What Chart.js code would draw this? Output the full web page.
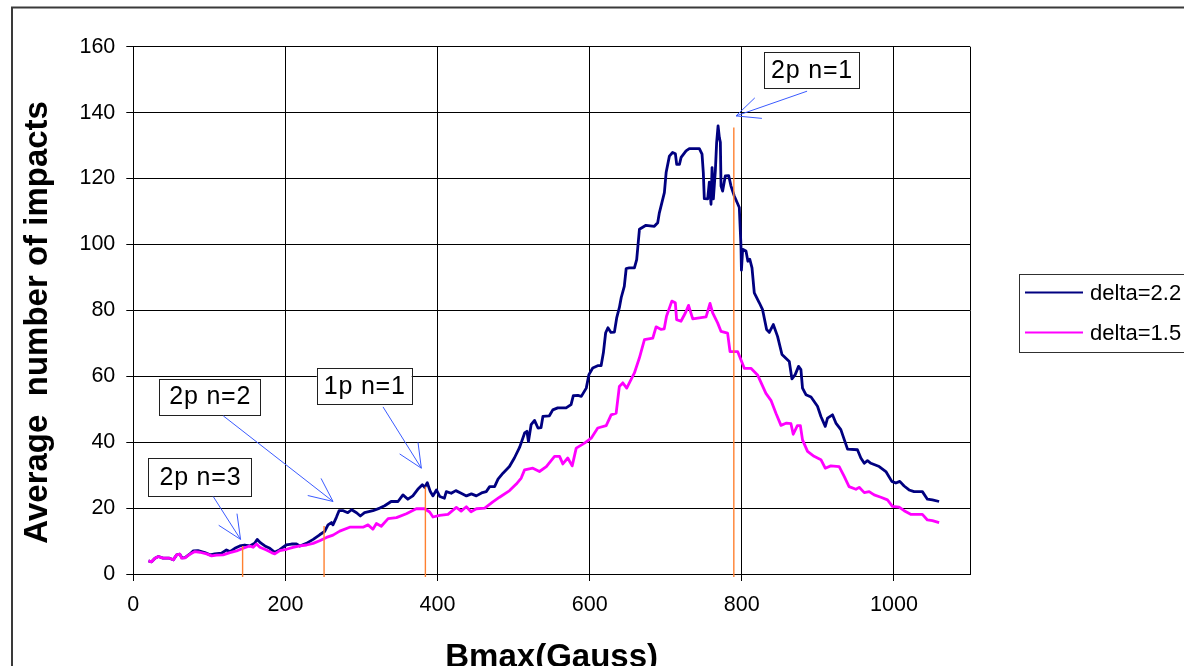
<!DOCTYPE html>
<html>
<head>
<meta charset="utf-8">
<script src="https://cdn.jsdelivr.net/npm/chart.js@4/dist/chart.umd.min.js"></script>
<style>
  html, body { margin: 0; padding: 0; background: #fff; overflow: hidden; }
  canvas { display: block; }
</style>
</head>
<body>
<canvas id="c" width="1184" height="666"></canvas>
<script>
// ---------- DATA ----------
const seriesLabels = ['delta=2.2', 'delta=1.5'];

const bmaxDelta22 = [20,24,28.5,33,39,47.5,52.5,57,61,64,68,74,79,85,94,101,107,116,122.5,127,133.5,140,146.5,153,159.5,163,167,173,179.5,186,192.5,201,208,214.5,219,227.5,236.5,245,251.5,256,260.5,262.5,267,270.5,276,282,287,293.5,298.5,304,315,324,330.5,339,348,354.5,361,367.5,374,380,383,386.5,390.5,394,398.5,403,409,411.5,418,424,431,438,444.5,451,459,464,468.5,475,479.5,486,494.5,501,508,514.5,517.5,519.5,523,527.5,532,536,538.5,547,551.5,558,569,575.5,578.5,584.5,589,595.5,599,604,610.5,615,618,621,624,628,632.5,635.5,639,641.5,645.5,648,652,658.8,661.8,665.4,674,685,689.4,691.6,698.2,700.5,704.8,709,712.7,714.4,718,720.2,726.7,731,744.2,747.7,749.4,750.7,755.1,757.3,759.5,760.9,762.6,765.2,766.9,768.8,770.5,771.8,772.7,774.8,778.3,782.7,785.8,787.9,790.1,796.7,798.9,799.5,801.1,805.5,808,810.5,813.4,816.4,823,827.3,832.6,836.1,841.4,847,852.8,862.4,865.9,870.2,874.6,877.7,879.8,884.3,891,899.5,904,909.7,912.7,919.2,923.7,930.2,939,952,956.5,961,965.2,969.7,980.6,989.4,997.2,1002.5,1007.7,1013.4,1019.9,1026.5,1037.4,1044,1050.6,1059.4];
const impactsDelta22 = [4.0,3.7,4.8,5.3,4.8,4.8,4.3,5.8,6.0,4.9,5.0,6.0,7.0,7.1,6.5,5.8,6.1,6.3,7.3,6.8,7.8,8.5,8.8,8.5,9.3,10.5,9.5,8.5,7.8,6.6,7.4,8.8,9.1,9.1,8.5,9.3,10.5,11.9,12.9,14.9,15.6,14.9,17.2,19.2,19.2,18.6,19.5,18.6,17.6,18.6,19.2,20.0,20.7,22.0,22.0,24.0,22.7,23.7,25.7,27.1,26.3,27.7,25.0,23.7,25.5,23.5,23.0,25.0,24.5,25.3,24.5,23.7,24.3,23.7,24.7,25.0,26.5,26.5,28.8,30.6,32.6,35.2,38.5,42.8,43.3,40.2,45.3,46.6,44.3,44.4,47.8,48.0,49.8,50.4,50.4,51.4,54.1,54.2,53.9,56.4,60.5,62.5,63.2,63.2,67.1,73.2,74.7,73.3,73.4,77.7,80.8,83.9,87.3,92.7,92.9,92.9,95.4,104.6,105.8,105.5,106.6,109.6,115.7,121.8,126.8,127.9,127.5,124.3,124.3,126.4,128.4,129.1,129.1,127.4,121.8,113.9,113.8,118.9,112.2,123.3,113.8,122.3,130.9,136.0,132.4,131.0,117.7,116.2,120.8,120.9,117.7,116.2,114.7,111.2,99.5,92.2,98.5,98.0,94.9,95.5,92.9,85.3,82.3,80.2,74.2,73.3,75.7,72.1,66.6,64.5,59.2,60.5,63.0,62.0,56.4,54.4,53.7,50.9,47.8,44.8,47.3,48.3,45.8,43.8,37.9,37.7,35.2,33.6,34.4,33.6,32.6,31.1,28.1,27.6,28.1,26.7,25.5,25.0,25.0,22.7,22.5,22.0];

const bmaxDelta15 = [20,24,28.5,33,39,47.5,52.5,57,61.3,63.5,68,74.5,81,87.6,96.4,103,109.5,118,127,135.8,144.5,153,157.6,162,166.4,175,181.7,186,192.6,201.4,210,219,227.7,236.4,245,254,262.6,271.4,284.5,302,308.6,315,319.6,326,335,346,359,372,383,389.6,394,402.8,413.7,424.7,431,437.8,444,451,462,472.7,481.5,494.7,503.5,510,514.4,525.3,534,543,553.8,560.4,564.7,571.2,577,582.3,593.2,602,610.6,621.7,628.2,634.8,639,643.5,648.7,658.8,665.4,672,683,687.3,694,698,701,708,712.6,714.3,720,725.8,730,735.5,744.2,753,758.2,761.7,768.2,772.7,781.3,784.5,794.5,803.3,812,820.7,831.7,838.3,845,851.5,858.8,864.6,867.6,873,877,879.8,886.4,895,904,909.7,917,928,934.6,941,950,954.3,961,967.4,974,982.8,991.5,998,1006.8,1013.4,1022,1037.4,1044,1050.6,1059.4];
const impactsDelta15 = [4.0,3.7,4.8,5.3,4.8,4.8,4.3,5.8,6.0,4.8,4.9,6.0,6.8,6.6,6.1,5.5,5.7,5.8,6.5,7.0,7.8,8.5,8.1,9.1,8.1,7.3,6.5,6.1,7.1,7.5,8.1,8.5,8.8,9.3,10.1,11.1,11.8,13.0,14.2,14.2,14.9,13.6,15.3,14.5,16.8,17.1,18.3,19.8,19.8,18.8,17.3,17.8,18.1,20.2,19.1,20.4,18.9,19.8,20.0,21.9,23.3,25.3,27.3,29.1,31.6,32.1,31.1,32.6,35.7,35.7,33.4,35.2,32.8,38.2,39.7,41.2,44.3,45.0,48.3,48.8,56.9,58.0,56.4,61.0,65.6,71.1,71.6,75.0,74.2,74.4,78.2,82.8,82.3,77.2,76.7,79.2,81.5,77.4,77.7,78.0,82.1,79.2,76.2,73.6,73.1,67.5,67.5,62.4,62.4,60.4,54.8,52.7,48.7,45.1,45.8,45.6,42.4,45.0,45.0,40.7,37.2,35.7,34.7,32.1,32.8,32.6,29.6,26.5,25.7,26.3,24.7,25.0,24.0,23.3,22.5,20.5,20.3,19.2,18.1,18.1,16.4,16.2,15.6];

// resonance markers (orange vertical lines): Bmax position and top value
const markerBmax = [143.7, 250.8, 384, 789.5];
const markerTop  = [8.5, 14.6, 26.5, 135.5];

// annotation labels
const noteTexts = ['2p n=3', '2p n=2', '1p n=1', '2p n=1'];

const xTickValues = [0, 200, 400, 600, 800, 1000, 1100];
const yMin = 0, yMax = 160, yStep = 20;

// ---------- LAYOUT (annotation boxes/arrows in data units) ----------
const noteBoxes = [
  {x0: 19.7, x1: 155.5, y0: 35.2, y1: 23.8},
  {x0: 34.1, x1: 166.8, y0: 59.3, y1: 48.5},
  {x0: 241.2, x1: 366.0, y0: 62.6, y1: 51.7},
  {x0: 829.3, x1: 954.0, y0: 158.4, y1: 147.4}
];
const noteArrows = [
  {fx: 105.1, fy: 23.5, tx: 141.0, ty: 10.5},
  {fx: 118.2, fy: 48.0, tx: 262.6, ty: 22.0},
  {fx: 328.3, fy: 50.7, tx: 378.7, ty: 32.1},
  {fx: 885.8, fy: 146.5, tx: 792.4, ty: 139.0}
];

const FONT = "'Liberation Sans', Arial, sans-serif";
Chart.defaults.font.family = FONT;
Chart.defaults.color = '#000';

const toXY = (xs, ys) => xs.map((x, i) => ({x: x, y: ys[i]}));

const datasets = [
  {label: seriesLabels[0], data: toXY(bmaxDelta22, impactsDelta22), borderColor: '#000080', borderWidth: 2.8, pointRadius: 0, tension: 0, order: 2, borderJoinStyle: 'round'},
  {label: seriesLabels[1], data: toXY(bmaxDelta15, impactsDelta15), borderColor: '#FF00FF', borderWidth: 2.8, pointRadius: 0, tension: 0, order: 1, borderJoinStyle: 'round'}
];
markerBmax.forEach((b, i) => {
  datasets.push({label: 'marker' + i, data: [{x: b, y: -0.9}, {x: b, y: markerTop[i]}], borderColor: '#FF8030', borderWidth: 1.4, pointRadius: 0, order: 0, clip: false});
});

const decorPlugin = {
  id: 'decor',
  beforeDraw(chart) {
    const c = chart.ctx;
    c.save();
    c.fillStyle = '#fff';
    c.fillRect(0, 0, chart.width, chart.height);
    c.strokeStyle = '#3a3a3a';
    c.lineWidth = 2;
    c.strokeRect(12, 7.5, 1400, 900);
    c.restore();
  },
  afterDraw(chart) {
    const c = chart.ctx;
    const xs = chart.scales.x, ys = chart.scales.y;
    const ca = chart.chartArea;
    c.save();
    // annotation boxes
    noteBoxes.forEach((b, i) => {
      const l = xs.getPixelForValue(b.x0), r = xs.getPixelForValue(b.x1);
      const t = ys.getPixelForValue(b.y0), bt = ys.getPixelForValue(b.y1);
      c.fillStyle = '#fff';
      c.fillRect(l, t, r - l, bt - t);
      c.strokeStyle = '#202020';
      c.lineWidth = 1;
      c.strokeRect(Math.round(l) + 0.5, Math.round(t) + 0.5, Math.round(r - l), Math.round(bt - t));
      c.fillStyle = '#000';
      c.font = '25px ' + FONT;
      c.letterSpacing = '0.8px';
      c.textAlign = 'center';
      c.textBaseline = 'middle';
      c.fillText(noteTexts[i], (l + r) / 2 + 0.5, (t + bt) / 2 + 1);
      c.letterSpacing = '0px';
    });
    // arrows
    c.strokeStyle = '#3b5bff';
    c.lineWidth = 1;
    noteArrows.forEach(a => {
      const fx = xs.getPixelForValue(a.fx), fy = ys.getPixelForValue(a.fy);
      const tx = xs.getPixelForValue(a.tx), ty = ys.getPixelForValue(a.ty);
      c.beginPath();
      c.moveTo(fx, fy); c.lineTo(tx, ty);
      const ang = Math.atan2(fy - ty, fx - tx);
      const L = 26, h = 0.43;
      c.moveTo(tx + L * Math.cos(ang + h), ty + L * Math.sin(ang + h));
      c.lineTo(tx, ty);
      c.lineTo(tx + L * Math.cos(ang - h), ty + L * Math.sin(ang - h));
      c.stroke();
    });
    // y-axis title
    c.save();
    c.translate(38, (ca.top + ca.bottom) / 2 + 12);
    c.rotate(-Math.PI / 2);
    c.font = 'bold 33px ' + FONT;
    c.fillStyle = '#000';
    c.textAlign = 'center';
    c.textBaseline = 'middle';
    c.fillText('Average  number of impacts', 0, 0);
    c.restore();
    // legend
    const lx = 1019.5, ly = 274.5;
    c.fillStyle = '#fff';
    c.fillRect(lx, ly, 300, 78);
    c.strokeStyle = '#303030';
    c.lineWidth = 1;
    c.strokeRect(lx, ly, 300, 78);
    const rows = [292.5, 332.5];
    [0, 1].forEach(k => {
      const ds = chart.data.datasets[k];
      c.strokeStyle = ds.borderColor;
      c.lineWidth = 2.2;
      c.beginPath();
      c.moveTo(1025, rows[k]); c.lineTo(1083, rows[k]);
      c.stroke();
      c.fillStyle = '#000';
      c.font = '22px ' + FONT;
      c.textAlign = 'left';
      c.textBaseline = 'middle';
      c.fillText(ds.label, 1090, rows[k] + 1);
    });
    c.restore();
  }
};

new Chart(document.getElementById('c'), {
  type: 'line',
  data: {datasets: datasets},
  options: {
    responsive: false,
    animation: false,
    events: [],
    layout: {padding: {top: 46.7, right: 214, bottom: 0, left: 0}},
    plugins: {legend: {display: false}, tooltip: {enabled: false}},
    scales: {
      x: {
        type: 'linear', min: 0, max: 1100,
        afterBuildTicks: s => { s.ticks = xTickValues.map(v => ({value: v})); },
        afterFit: s => { s.height = 92; },
        ticks: {
          callback: v => (v === 1100 ? '' : String(v)),
          font: {size: 21.5}, color: '#000', padding: 11, maxRotation: 0, autoSkip: false
        },
        grid: {
          color: '#000', lineWidth: 1, tickLength: 7,
          tickColor: ctx => (ctx.tick && ctx.tick.value === 1100 ? 'rgba(0,0,0,0)' : '#000')
        },
        border: {color: '#000', width: 1},
        title: {display: true, text: 'Bmax(Gauss)', color: '#000', font: {size: 33, weight: 'bold', lineHeight: 1.2}, padding: {top: 0, bottom: -12}}
      },
      y: {
        type: 'linear', min: yMin, max: yMax,
        afterFit: s => { s.width = 133.3; },
        ticks: {stepSize: yStep, font: {size: 21.5}, color: '#000', padding: 11},
        grid: {color: '#000', lineWidth: 1, tickLength: 7, tickColor: '#000'},
        border: {color: '#000', width: 1}
      }
    }
  },
  plugins: [decorPlugin]
});
</script>
</body>
</html>
